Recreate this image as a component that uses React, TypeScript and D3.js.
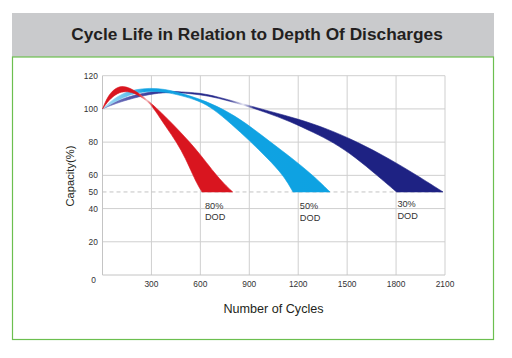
import React from 'react';
import * as d3 from 'd3';

const TITLE = 'Cycle Life in Relation to Depth Of Discharges';
const X_LABEL = 'Number of Cycles';
const Y_LABEL = 'Capacity(%)';
const xTicks = [300, 600, 900, 1200, 1500, 1800, 2100];
const yTicks = [0, 20, 40, 50, 60, 80, 100, 120];
const yGrid = [20, 40, 60, 80, 100, 120];
const cutoff = 50;

// [cycles, capacity %] edges of each band
const redOuter: [number, number][] = [
  [0, 100], [30, 107.2], [70, 112], [118, 114], [170, 112.6], [230, 109], [285, 104.5],
  [342, 99.5], [420, 92], [536, 80], [620, 70], [690, 61], [745, 55], [798, 50],
];
const redInner: [number, number][] = [
  [0, 100], [40, 105.5], [90, 109.5], [140, 110.8], [195, 109.6], [245, 106.8], [285, 103.8],
  [320, 99.5], [390, 89], [455, 80], [510, 70], [555, 60], [585, 54], [610, 50],
];
const blueOuter: [number, number][] = [
  [0, 100], [60, 105.5], [130, 109.6], [200, 111.7], [290, 112.6], [380, 112], [476, 109.6],
  [598, 106], [740, 100], [880, 91.5], [1030, 80], [1160, 70.5], [1291, 60], [1395, 50],
];
const blueInner: [number, number][] = [
  [0, 100], [60, 103.5], [130, 107], [200, 109.5], [290, 110.8], [380, 110.2], [476, 108.3],
  [598, 104.7], [679, 100], [790, 91], [900, 81], [1010, 70.5], [1110, 60], [1168, 50],
];
const navyOuter: [number, number][] = [
  [0, 100], [60, 103.5], [150, 107.2], [291, 110.5], [400, 110.7], [476, 110.3], [598, 109.6],
  [700, 107.5], [863, 103], [1027, 98.5], [1200, 94], [1380, 88], [1566, 80], [1750, 70.5],
  [1928, 60], [2088, 50],
];
const navyInner: [number, number][] = [
  [0, 100], [60, 102.5], [150, 105.5], [291, 109], [400, 110], [476, 109.8], [598, 108.6],
  [700, 106.8], [863, 102.4], [1000, 98], [1150, 92.5], [1300, 85.5], [1413, 80], [1550, 71],
  [1683, 60], [1803, 50],
];
const dodTop = ['80%', '50%', '30%'];
const dodBottom = ['DOD', 'DOD', 'DOD'];
const dodLabelCycles = [628, 1210, 1808];
const dodLabelCaps = [40, 39.5, 40.9];

const W = 512;
const H = 358;
const FONT = "'Liberation Sans', Arial, Helvetica, sans-serif";

export default function App() {
  const x = d3.scaleLinear().domain([0, 2100]).range([102.5, 445]);
  const y = d3.scaleLinear().domain([0, 120]).range([275, 75.7]);
  const line = d3
    .line<[number, number]>()
    .x((d) => x(d[0]))
    .y((d) => y(d[1]))
    .curve(d3.curveBasis);

  const band = (outer: [number, number][], inner: [number, number][]) => {
    const a = line(outer) as string;
    const b = (line(inner.slice().reverse()) as string).replace(/^M/, 'L');
    return a + b + 'Z';
  };

  const bands = [
    { id: 'navy', d: band(navyOuter, navyInner) },
    { id: 'blue', d: band(blueOuter, blueInner) },
    { id: 'red', d: band(redOuter, redInner) },
  ];

  const grads: Record<string, [number, string][]> = {
    red: [
      [0, '#d9151f'], [220, '#d9151f'], [272, '#f3b9bc'], [312, '#d9151f'], [2100, '#d9151f'],
    ],
    blue: [
      [0, '#a9dcf4'], [170, '#5fc0ec'], [260, '#12a2e2'], [2100, '#0aa2e2'],
    ],
    navy: [
      [0, '#8083c4'], [200, '#4d50a8'], [420, '#23268a'], [780, '#25288b'], [862, '#e6e6f3'],
      [930, '#25288b'], [1100, '#1e2283'], [2100, '#1e2283'],
    ],
  };

  const gridColor = '#cfcfcf';
  const tickFont = 8.4;

  return (
    <svg
      width={W}
      height={H}
      viewBox={`0 0 ${W} ${H}`}
      style={{ position: 'absolute', left: 0, top: 0, display: 'block', background: '#fff' }}
      fontFamily={FONT}
    >
      <defs>
        {Object.entries(grads).map(([id, stops]) => (
          <linearGradient
            key={id}
            id={`g-${id}`}
            gradientUnits="userSpaceOnUse"
            x1={x(0)}
            x2={x(2100)}
            y1={0}
            y2={0}
          >
            {stops.map(([c, col], i) => (
              <stop key={i} offset={c / 2100} stopColor={col} />
            ))}
          </linearGradient>
        ))}
      </defs>
      <rect x={0} y={0} width={W} height={H} fill="#fff" />
      {/* title bar */}
      <rect x={12} y={13} width={482} height={44} fill="#c9cacc" />
      <text
        x={257}
        y={39.5}
        textAnchor="middle"
        fontSize={17.3}
        fontWeight="bold"
        fill="#231f20"
      >
        {TITLE}
      </text>
      {/* frame */}
      <rect x={12.5} y={57} width={481} height={282.5} fill="none" stroke="#6cbf4f" strokeWidth={1.2} />

      {/* grid */}
      {yGrid.map((t) => (
        <line key={`h${t}`} x1={x(0)} x2={x(2100)} y1={y(t)} y2={y(t)} stroke={gridColor} strokeWidth={1} />
      ))}
      {xTicks.map((t) => (
        <line key={`v${t}`} x1={x(t)} x2={x(t)} y1={y(0)} y2={y(120)} stroke={gridColor} strokeWidth={1} />
      ))}
      <line x1={x(0)} x2={x(0)} y1={y(0)} y2={y(120)} stroke="#c4c4c4" strokeWidth={1} />
      <line x1={x(0)} x2={x(2100)} y1={y(0)} y2={y(0)} stroke="#c4c4c4" strokeWidth={1} />
      <line
        x1={x(0)}
        x2={x(2100)}
        y1={y(cutoff)}
        y2={y(cutoff)}
        stroke="#bdbdbd"
        strokeWidth={0.9}
        strokeDasharray="4,3"
      />

      {/* bands */}
      {bands.map((b) => (
        <path key={b.id} d={b.d} fill={`url(#g-${b.id})`} stroke={`url(#g-${b.id})`} strokeWidth={0.6} />
      ))}

      {/* y tick labels */}
      {yTicks.map((t) =>
        t === 0 ? (
          <text key={`yl${t}`} x={93.5} y={282.5} textAnchor="middle" fontSize={tickFont} fill="#333">
            0
          </text>
        ) : (
          <text key={`yl${t}`} x={97.8} y={y(t) + 3} textAnchor="end" fontSize={tickFont} fill="#333">
            {t}
          </text>
        )
      )}
      {/* x tick labels */}
      {xTicks.map((t) => (
        <text key={`xl${t}`} x={x(t)} y={286.7} textAnchor="middle" fontSize={tickFont} fill="#333">
          {t}
        </text>
      ))}

      {/* DOD labels */}
      {dodTop.map((s, i) => (
        <text
          key={`dod${i}`}
          x={x(dodLabelCycles[i])}
          y={y(dodLabelCaps[i])}
          fontSize={9.2}
          fill="#333"
        >
          <tspan x={x(dodLabelCycles[i])}>{s}</tspan>
          <tspan x={x(dodLabelCycles[i])} dy={11.5}>
            {dodBottom[i]}
          </tspan>
        </text>
      ))}

      {/* axis titles */}
      <text x={273.5} y={312.7} textAnchor="middle" fontSize={12.6} fill="#231f20">
        {X_LABEL}
      </text>
      <text
        transform="translate(73.8,176) rotate(-90)"
        textAnchor="middle"
        fontSize={11.2}
        fill="#231f20"
      >
        {Y_LABEL}
      </text>
    </svg>
  );
}
